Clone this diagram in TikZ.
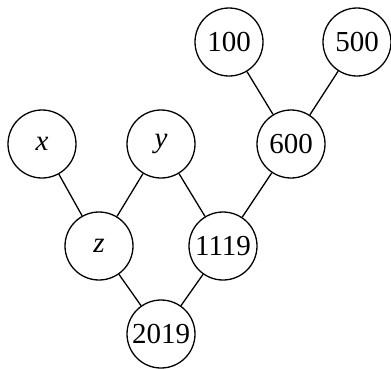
\documentclass[tikz,border=0pt]{standalone}
\usepackage{fontspec}
\setmainfont{Liberation Serif}
\begin{document}
\begin{tikzpicture}[x=1pt,y=-1pt,
  nd/.style={draw,circle,line width=1.3pt,minimum size=68pt,inner sep=0pt,font=\fontsize{29}{29}\selectfont},
  ed/.style={line width=1.3pt}]
\useasboundingbox (0,0) rectangle (391,368);
\node[nd] (n100) at (229,42) {100};
\node[nd] (n500) at (357,42) {500};
\node[nd] (x) at (42,144) {\textit{x}};
\node[nd] (y) at (161,144) {\textit{y}};
\node[nd] (n600) at (291,144) {600};
\node[nd] (z) at (99,246) {\textit{z}};
\node[nd] (n1119) at (223,246) {1119};
\node[nd] (n2019) at (161,334) {2019};
\draw[ed] (n100) -- (n600);
\draw[ed] (n500) -- (n600);
\draw[ed] (x) -- (z);
\draw[ed] (y) -- (z);
\draw[ed] (y) -- (n1119);
\draw[ed] (n600) -- (n1119);
\draw[ed] (z) -- (n2019);
\draw[ed] (n1119) -- (n2019);
\end{tikzpicture}
\end{document}
